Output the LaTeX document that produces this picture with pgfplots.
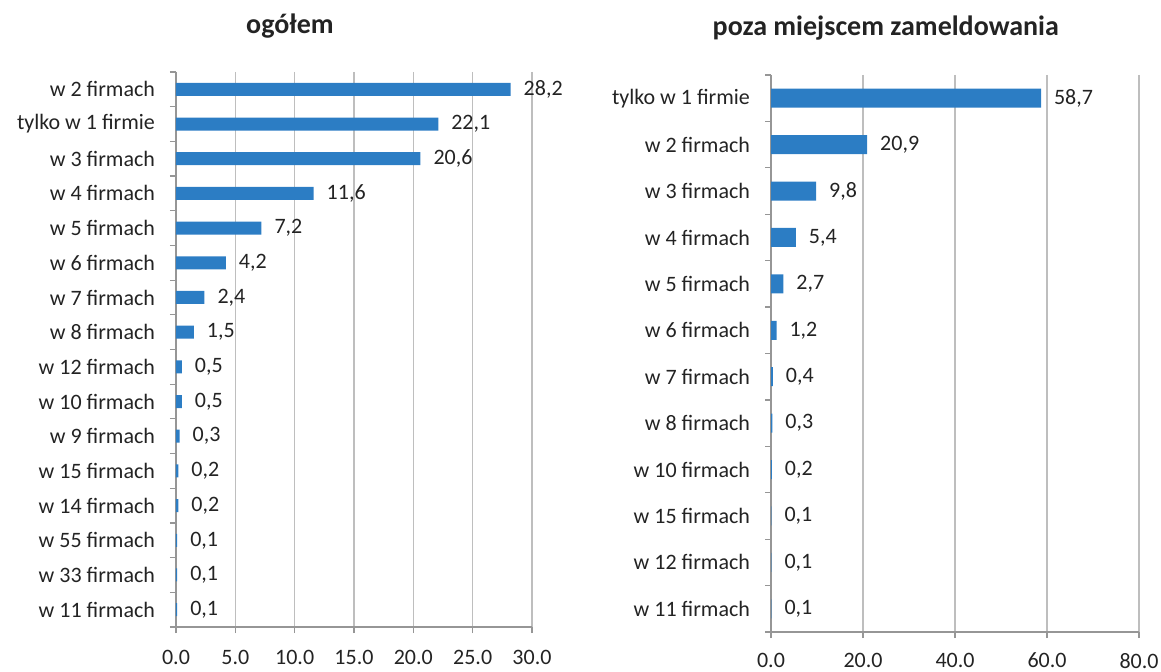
\documentclass[border=0pt]{standalone}
\usepackage{pgfplots}
\pgfplotsset{compat=1.18}
\usepackage{fontspec}
\setmainfont{Carlito}
\definecolor{barblue}{RGB}{44,125,196}
\definecolor{gridgray}{RGB}{190,190,190}
\definecolor{axgray}{RGB}{150,150,150}
\definecolor{txt}{RGB}{35,35,35}
\newcommand{\lblfont}{\fontsize{11}{13}\selectfont}
\pgfplotsset{
  mystyle/.style={
    scale only axis, xbar, y dir=reverse,
    axis x line*=bottom, axis y line*=left,
    axis line style={axgray, line width=0.6pt},
    xmajorgrids, grid style={gridgray, line width=0.7pt},
    xmin=0, ymin=-0.5,
    tick align=outside,
    major tick length=3pt, minor tick length=3pt,
    major y tick style={draw=none},
    minor y tick style={axgray, line width=0.6pt},
    x tick style={axgray, line width=0.6pt},
    /pgf/number format/assume math mode=true,
    xticklabel style={font=\lblfont, text=txt, yshift=-5pt,
      /pgf/number format/fixed, /pgf/number format/fixed zerofill,
      /pgf/number format/precision=1},
    yticklabel style={font=\lblfont, text=txt, xshift=-4pt},
    point meta=x,
    nodes near coords={\pgfmathprintnumber[fixed,fixed zerofill,precision=1,use comma]{\pgfplotspointmeta}},
    nodes near coords align={horizontal},
    every node near coord/.append style={font=\lblfont, text=txt, anchor=west, xshift=3pt},
    title style={font=\fontsize{14}{16}\selectfont\bfseries, text=txt, anchor=center, yshift=0pt},
  }
}
\begin{document}
\begin{tikzpicture}
\useasboundingbox (-88pt,-22.5pt) rectangle (492.5pt,313.5pt);
\begin{axis}[mystyle,
  at={(0pt,0pt)}, anchor=south west,
  width=178pt, height=277.5pt,
  xmax=30, ymax=15.5,
  xtick={0,5,...,30},
  ytick={0,...,15},
  minor ytick={-0.5,0.5,...,15.5},
  yticklabels={w 2 firmach, tylko w 1 firmie, w 3 firmach, w 4 firmach, w 5 firmach, w 6 firmach, w 7 firmach, w 8 firmach, w 12 firmach, w 10 firmach, w 9 firmach, w 15 firmach, w 14 firmach, w 55 firmach, w 33 firmach, w 11 firmach},
  bar width=6.5pt,
  title={ogółem},
  title style={at={(axis description cs:0.32,1.062)}},
]
\addplot[fill=barblue, draw=none] coordinates {
  (28.2,0) (22.1,1) (20.6,2) (11.6,3) (7.2,4) (4.2,5) (2.4,6) (1.5,7)
  (0.5,8) (0.5,9) (0.3,10) (0.2,11) (0.2,12) (0.1,13) (0.1,14) (0.1,15)
};
\end{axis}
\begin{axis}[mystyle,
  at={(297.5pt,-2.5pt)}, anchor=south west,
  width=184pt, height=278.5pt,
  xmax=80, ymax=11.5,
  xtick={0,20,...,80},
  ytick={0,...,11},
  minor ytick={-0.5,0.5,...,11.5},
  xticklabel style={yshift=1pt},
  yticklabels={tylko w 1 firmie, w 2 firmach, w 3 firmach, w 4 firmach, w 5 firmach, w 6 firmach, w 7 firmach, w 8 firmach, w 10 firmach, w 15 firmach, w 12 firmach, w 11 firmach},
  bar width=9.5pt,
  title={poza miejscem zameldowania},
  title style={at={(axis description cs:0.312,1.063)}},
]
\addplot[fill=barblue, draw=none] coordinates {
  (58.7,0) (20.9,1) (9.8,2) (5.4,3) (2.7,4) (1.2,5) (0.4,6) (0.3,7)
  (0.2,8) (0.1,9) (0.1,10) (0.1,11)
};
\end{axis}
\end{tikzpicture}
\end{document}
